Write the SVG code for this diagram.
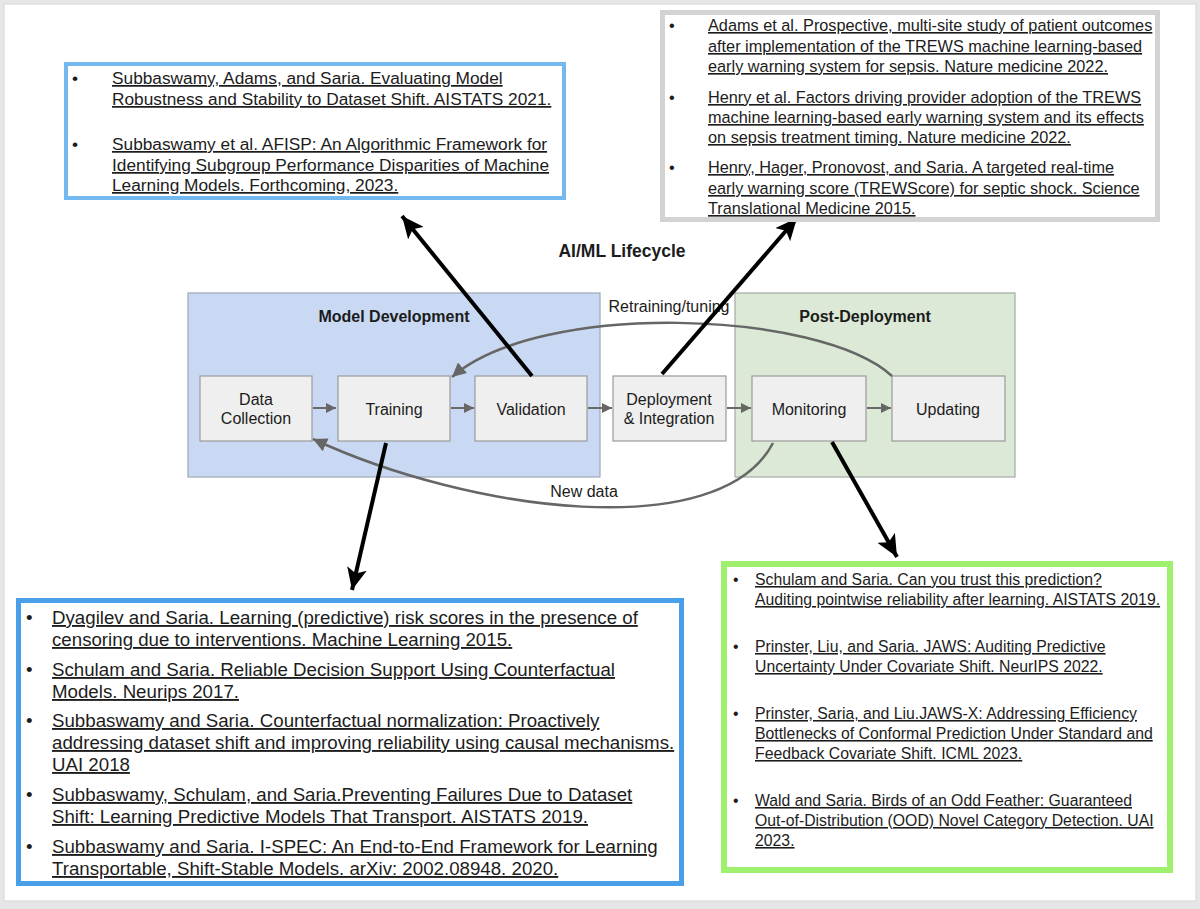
<svg xmlns="http://www.w3.org/2000/svg" width="1200" height="909" viewBox="0 0 1200 909">
<style>
text{font-family:"Liberation Sans",Arial,Helvetica,sans-serif;fill:#1c1c1c}
.ref{text-decoration:underline}
.tl{font-size:17.3px}
.tr{font-size:16.3px}
.bl{font-size:18.7px}
.br{font-size:15.8px}
.node{fill:#efefef;stroke:#9a9a9a;stroke-width:1.2}
.lbl{font-size:16px;text-anchor:middle}
.ttl{font-size:16px;font-weight:bold;text-anchor:middle}
.thin{fill:none;stroke:#6a6a6a;stroke-width:2}
.curve{fill:none;stroke:#666;stroke-width:2.5}
.big{fill:none;stroke:#000;stroke-width:4}
</style>
<defs>
<marker id="ag" markerUnits="userSpaceOnUse" markerWidth="12" markerHeight="10" refX="10" refY="5" orient="auto"><path d="M0,0 L10,5 L0,10 z" fill="#666"/></marker>
<marker id="ac" markerUnits="userSpaceOnUse" markerWidth="16" markerHeight="14" refX="14" refY="7" orient="auto"><path d="M0,0 L14,7 L0,14 z" fill="#666"/></marker>
<marker id="ab" markerUnits="userSpaceOnUse" markerWidth="24" markerHeight="20" refX="22" refY="10" orient="auto"><path d="M0,0 L22,10 L0,20 L5,10 z" fill="#000"/></marker>
</defs>
<rect x="0" y="0" width="1200" height="909" fill="#e6e6e6"/>
<rect x="4" y="4" width="1192" height="897" fill="#ffffff" stroke="#d6d6d6" stroke-width="1"/>

<g id="panel-model-development">
<rect x="188" y="293" width="412" height="184" fill="#c9d9f3" stroke="#9ea7b6" stroke-width="1.2"/>
<text class="ttl" x="394" y="322">Model Development</text>
</g>
<g id="panel-post-deployment">
<rect x="735" y="293" width="280" height="184" fill="#dbe9d6" stroke="#a3aba2" stroke-width="1.2"/>
<text class="ttl" x="865" y="322">Post-Deployment</text>
</g>
<g id="title"><text x="622" y="257" style="font-size:17.5px;font-weight:bold;text-anchor:middle">AI/ML Lifecycle</text></g>

<g id="node-data-collection"><rect class="node" x="200" y="376" width="112" height="65"/><text class="lbl" x="256" y="405">Data</text><text class="lbl" x="256" y="424">Collection</text></g>
<g id="node-training"><rect class="node" x="338" y="376" width="112" height="65"/><text class="lbl" x="394" y="415">Training</text></g>
<g id="node-validation"><rect class="node" x="475" y="376" width="112" height="65"/><text class="lbl" x="531" y="415">Validation</text></g>
<g id="node-deployment"><rect class="node" x="613" y="376" width="113" height="65"/><text class="lbl" x="669" y="405">Deployment</text><text class="lbl" x="669" y="424">&amp; Integration</text></g>
<g id="node-monitoring"><rect class="node" x="752" y="376" width="114" height="65"/><text class="lbl" x="809" y="415">Monitoring</text></g>
<g id="node-updating"><rect class="node" x="892" y="376" width="113" height="65"/><text class="lbl" x="948" y="415">Updating</text></g>

<g id="connectors">
<line class="thin" x1="313" y1="408" x2="336" y2="408" marker-end="url(#ag)"/>
<line class="thin" x1="451" y1="408" x2="474" y2="408" marker-end="url(#ag)"/>
<line class="thin" x1="588" y1="408" x2="612" y2="408" marker-end="url(#ag)"/>
<line class="thin" x1="727" y1="408" x2="751" y2="408" marker-end="url(#ag)"/>
<line class="thin" x1="867" y1="408" x2="891" y2="408" marker-end="url(#ag)"/>
<path class="curve" d="M892,376 C820,310 540,300 452,377" marker-end="url(#ac)"/>
<path class="curve" d="M773,443 C720,545 470,512 313,439" marker-end="url(#ac)"/>
<text x="669" y="312" style="font-size:16px;text-anchor:middle">Retraining/tuning</text>
<text x="584" y="497" style="font-size:16px;text-anchor:middle">New data</text>
<line class="big" x1="532" y1="376" x2="402" y2="216" marker-end="url(#ab)"/>
<line class="big" x1="662" y1="374" x2="797" y2="218" marker-end="url(#ab)"/>
<line class="big" x1="386" y1="443" x2="352" y2="590" marker-end="url(#ab)"/>
<line class="big" x1="832" y1="442" x2="897" y2="557" marker-end="url(#ab)"/>
</g>

<g id="refs-validation">
<rect x="66" y="64" width="498" height="134" fill="#fff" stroke="#74b8f0" stroke-width="4"/>
<text class="tl" x="72" y="84">•</text>
<text class="tl ref" x="112" y="84">Subbaswamy, Adams, and Saria. Evaluating Model</text>
<text class="tl ref" x="112" y="105">Robustness and Stability to Dataset Shift. AISTATS 2021.</text>
<text class="tl" x="72" y="150">•</text>
<text class="tl ref" x="112" y="150">Subbaswamy et al. AFISP: An Algorithmic Framework for</text>
<text class="tl ref" x="112" y="171">Identifying Subgroup Performance Disparities of Machine</text>
<text class="tl ref" x="112" y="191">Learning Models. Forthcoming, 2023.</text>
</g>

<g id="refs-deployment">
<rect x="662.5" y="12.5" width="495" height="207" fill="#fff" stroke="#d3d3d3" stroke-width="5"/>
<text class="tr" x="669" y="31">•</text>
<text class="tr ref" x="708" y="31">Adams et al. Prospective, multi-site study of patient outcomes</text>
<text class="tr ref" x="708" y="52">after implementation of the TREWS machine learning-based</text>
<text class="tr ref" x="708" y="72">early warning system for sepsis. Nature medicine 2022.</text>
<text class="tr" x="669" y="103">•</text>
<text class="tr ref" x="708" y="103">Henry et al. Factors driving provider adoption of the TREWS</text>
<text class="tr ref" x="708" y="123">machine learning-based early warning system and its effects</text>
<text class="tr ref" x="708" y="143">on sepsis treatment timing. Nature medicine 2022.</text>
<text class="tr" x="669" y="173">•</text>
<text class="tr ref" x="708" y="173">Henry, Hager, Pronovost, and Saria. A targeted real-time</text>
<text class="tr ref" x="708" y="194">early warning score (TREWScore) for septic shock. Science</text>
<text class="tr ref" x="708" y="214">Translational Medicine 2015.</text>
</g>

<g id="refs-training">
<rect x="18.5" y="600.5" width="663" height="283" fill="#fff" stroke="#4a9fe9" stroke-width="5"/>
<text class="bl" x="26" y="624">•</text>
<text class="bl ref" x="52" y="624">Dyagilev and Saria. Learning (predictive) risk scores in the presence of</text>
<text class="bl ref" x="52" y="646">censoring due to interventions. Machine Learning 2015.</text>
<text class="bl" x="26" y="676">•</text>
<text class="bl ref" x="52" y="676">Schulam and Saria. Reliable Decision Support Using Counterfactual</text>
<text class="bl ref" x="52" y="698">Models. Neurips 2017.</text>
<text class="bl" x="26" y="727">•</text>
<text class="bl ref" x="52" y="727">Subbaswamy and Saria. Counterfactual normalization: Proactively</text>
<text class="bl ref" x="52" y="749">addressing dataset shift and improving reliability using causal mechanisms.</text>
<text class="bl ref" x="52" y="771">UAI 2018</text>
<text class="bl" x="26" y="801">•</text>
<text class="bl ref" x="52" y="801">Subbaswamy, Schulam, and Saria.Preventing Failures Due to Dataset</text>
<text class="bl ref" x="52" y="823">Shift: Learning Predictive Models That Transport. AISTATS 2019.</text>
<text class="bl" x="26" y="853">•</text>
<text class="bl ref" x="52" y="853">Subbaswamy and Saria. I-SPEC: An End-to-End Framework for Learning</text>
<text class="bl ref" x="52" y="875">Transportable, Shift-Stable Models. arXiv: 2002.08948. 2020.</text>
</g>

<g id="refs-monitoring">
<rect x="724" y="564" width="446" height="306" fill="#fff" stroke="#9ef06e" stroke-width="6"/>
<text class="br" x="733" y="585">•</text>
<text class="br ref" x="755" y="585">Schulam and Saria. Can you trust this prediction?</text>
<text class="br ref" x="755" y="605">Auditing pointwise reliability after learning. AISTATS 2019.</text>
<text class="br" x="733" y="652">•</text>
<text class="br ref" x="755" y="652">Prinster, Liu, and Saria. JAWS: Auditing Predictive</text>
<text class="br ref" x="755" y="672">Uncertainty Under Covariate Shift. NeurIPS 2022.</text>
<text class="br" x="733" y="719">•</text>
<text class="br ref" x="755" y="719">Prinster, Saria, and Liu.JAWS-X: Addressing Efficiency</text>
<text class="br ref" x="755" y="739">Bottlenecks of Conformal Prediction Under Standard and</text>
<text class="br ref" x="755" y="759">Feedback Covariate Shift. ICML 2023.</text>
<text class="br" x="733" y="806">•</text>
<text class="br ref" x="755" y="806">Wald and Saria. Birds of an Odd Feather: Guaranteed</text>
<text class="br ref" x="755" y="826">Out-of-Distribution (OOD) Novel Category Detection. UAI</text>
<text class="br ref" x="755" y="846">2023.</text>
</g>
</svg>
